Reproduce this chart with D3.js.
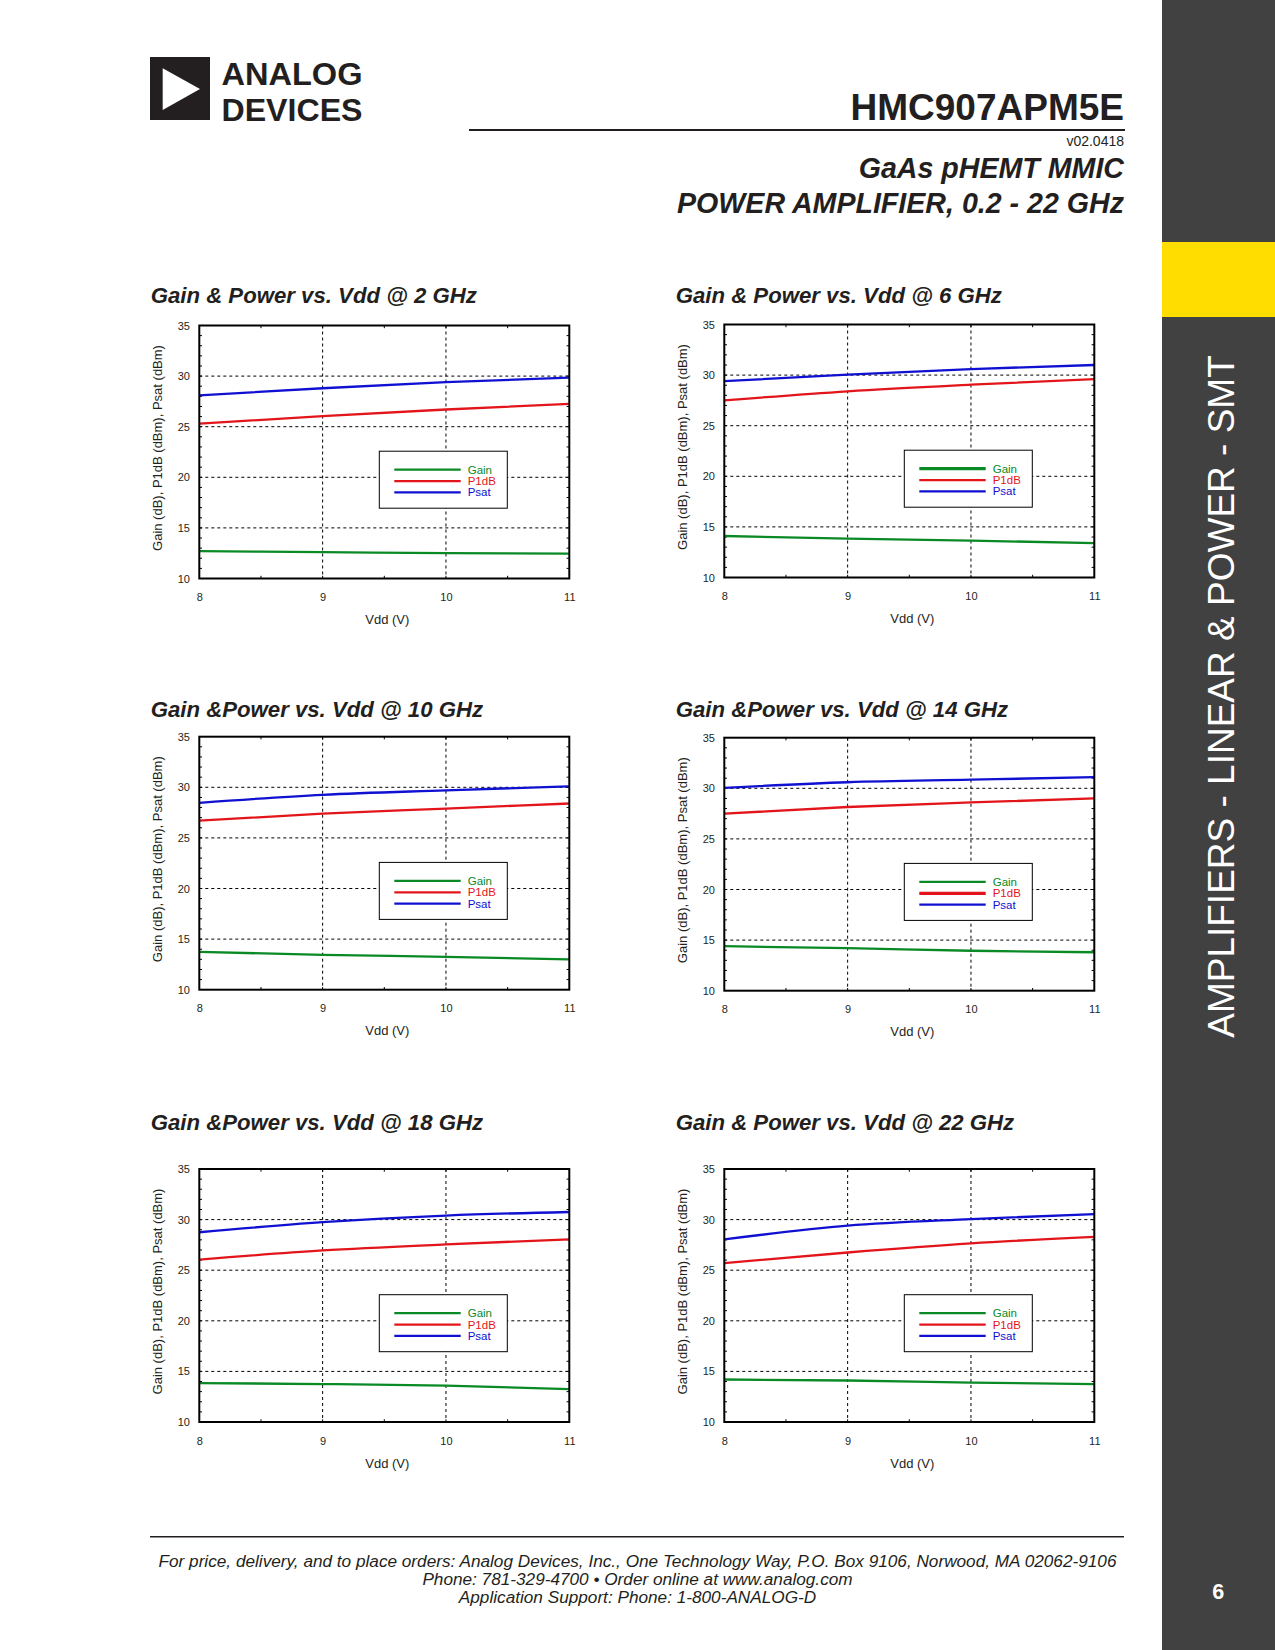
<!DOCTYPE html>
<html>
<head>
<meta charset="utf-8">
<script src="https://cdn.jsdelivr.net/npm/d3@7"></script>
<style>
  body { margin: 0; background: #fff; }
  svg { display: block; }
  text { font-family: "Liberation Sans", Arial, Helvetica, sans-serif; }
</style>
</head>
<body>
<svg id="page" width="1275" height="1650"></svg>
<script>
// ---------------- DATA ----------------
const vdd = [8, 9, 10, 11];
const xTickValues = [8, 9, 10, 11];
const yTickValues = [10, 15, 20, 25, 30, 35];
const seriesNames = ["Gain", "P1dB", "Psat"];
const chartTitles = [
  "Gain & Power vs. Vdd @ 2 GHz",
  "Gain & Power vs. Vdd @ 6 GHz",
  "Gain &Power vs. Vdd @ 10 GHz",
  "Gain &Power vs. Vdd @ 14 GHz",
  "Gain &Power vs. Vdd @ 18 GHz",
  "Gain & Power vs. Vdd @ 22 GHz"
];
const xAxisTitle = "Vdd (V)";
const yAxisTitle = "Gain (dB), P1dB (dBm), Psat (dBm)";

const gain2GHz  = [12.7, 12.6, 12.5, 12.45];
const p1dB2GHz  = [25.3, 26.05, 26.7, 27.25];
const psat2GHz  = [28.1, 28.8, 29.4, 29.85];

const gain6GHz  = [14.1, 13.85, 13.65, 13.4];
const p1dB6GHz  = [27.5, 28.4, 29.05, 29.6];
const psat6GHz  = [29.4, 30.05, 30.6, 31.0];

const gain10GHz = [13.73, 13.45, 13.25, 13.0];
const p1dB10GHz = [26.7, 27.4, 27.9, 28.4];
const psat10GHz = [28.47, 29.26, 29.7, 30.1];

const gain14GHz = [14.4, 14.2, 13.95, 13.8];
const p1dB14GHz = [27.5, 28.15, 28.6, 29.0];
const psat14GHz = [30.05, 30.6, 30.85, 31.1];

const gain18GHz = [13.85, 13.75, 13.6, 13.25];
const p1dB18GHz = [26.05, 26.95, 27.55, 28.05];
const psat18GHz = [28.75, 29.75, 30.4, 30.75];

const gain22GHz = [14.2, 14.1, 13.9, 13.75];
const p1dB22GHz = [25.7, 26.75, 27.65, 28.3];
const psat22GHz = [28.05, 29.4, 30.05, 30.55];

const footerLines = [
  "For price, delivery, and to place orders: Analog Devices, Inc., One Technology Way, P.O. Box 9106, Norwood, MA 02062-9106",
  "Phone: 781-329-4700 \u2022 Order online at www.analog.com",
  "Application Support: Phone: 1-800-ANALOG-D"
];

// ---------------- STYLE / LAYOUT ----------------
const colors = { Gain: "#0a8a25", P1dB: "#e3151b", Psat: "#1010d2" };
const legendEmphasis = [null, "Gain", null, "P1dB", null, null];
const chartData = [
  [gain2GHz, p1dB2GHz, psat2GHz],
  [gain6GHz, p1dB6GHz, psat6GHz],
  [gain10GHz, p1dB10GHz, psat10GHz],
  [gain14GHz, p1dB14GHz, psat14GHz],
  [gain18GHz, p1dB18GHz, psat18GHz],
  [gain22GHz, p1dB22GHz, psat22GHz]
];
const frameLefts = [199.3, 724.3, 199.3, 724.3, 199.3, 724.3];
const frameTops = [325.5, 324.5, 736.7, 737.7, 1169, 1169];
const titleBaselines = [303, 303, 717, 717, 1130, 1130];
const W = 370, H = 253;

const svg = d3.select("#page");
const dark = "#231f20";

// Sidebar
svg.append("rect").attr("x", 1162).attr("y", 0).attr("width", 113).attr("height", 1650).attr("fill", "#424141");
svg.append("rect").attr("x", 1162).attr("y", 242).attr("width", 113).attr("height", 75).attr("fill", "#ffdd00");
svg.append("text")
  .attr("transform", "translate(1233.5,696.5) rotate(-90)")
  .attr("text-anchor", "middle")
  .attr("font-size", 37)
  .attr("fill", "#fff")
  .text("AMPLIFIERS - LINEAR & POWER - SMT");
svg.append("text")
  .attr("x", 1218.3).attr("y", 1599)
  .attr("text-anchor", "middle")
  .attr("font-size", 21.5).attr("font-weight", "bold")
  .attr("fill", "#fff").text("6");

// Logo
svg.append("rect").attr("x", 150).attr("y", 57).attr("width", 60).attr("height", 63).attr("fill", dark);
svg.append("path").attr("d", "M162.7,68.3 L200,89 L162.7,110 Z").attr("fill", "#fff");
svg.append("text").attr("x", 221.5).attr("y", 85).attr("font-size", 31.5).attr("font-weight", "bold")
  .attr("font-family", "'Liberation Sans Narrow', 'Liberation Sans', Arial, sans-serif")
  .attr("fill", dark).attr("textLength", 141).attr("lengthAdjust", "spacingAndGlyphs").text("ANALOG");
svg.append("text").attr("x", 221.5).attr("y", 120.5).attr("font-size", 31.5).attr("font-weight", "bold")
  .attr("font-family", "'Liberation Sans Narrow', 'Liberation Sans', Arial, sans-serif")
  .attr("fill", dark).attr("textLength", 141).attr("lengthAdjust", "spacingAndGlyphs").text("DEVICES");

// Header
svg.append("text").attr("x", 1124).attr("y", 120).attr("text-anchor", "end")
  .attr("font-size", 37).attr("font-weight", "bold").attr("fill", dark).text("HMC907APM5E");
svg.append("line").attr("x1", 469).attr("x2", 1125).attr("y1", 130).attr("y2", 130)
  .attr("stroke", dark).attr("stroke-width", 1.8);
svg.append("text").attr("x", 1124).attr("y", 145.5).attr("text-anchor", "end")
  .attr("font-size", 14).attr("fill", dark).text("v02.0418");
svg.append("text").attr("x", 1124).attr("y", 177.5).attr("text-anchor", "end")
  .attr("font-size", 28.6).attr("font-weight", "bold").attr("font-style", "italic").attr("fill", dark).text("GaAs pHEMT MMIC");
svg.append("text").attr("x", 1124).attr("y", 213).attr("text-anchor", "end")
  .attr("font-size", 28.6).attr("font-weight", "bold").attr("font-style", "italic").attr("fill", dark).text("POWER AMPLIFIER, 0.2 - 22 GHz");

// Footer
svg.append("line").attr("x1", 150).attr("x2", 1124).attr("y1", 1536.7).attr("y2", 1536.7)
  .attr("stroke", dark).attr("stroke-width", 1.4);
footerLines.forEach((t, i) => {
  svg.append("text").attr("x", 637.5).attr("y", 1567 + i * 18.2)
    .attr("text-anchor", "middle").attr("font-size", 17.2).attr("font-style", "italic")
    .attr("fill", dark).text(t);
});

// Charts
chartData.forEach((series, ci) => {
  const left = frameLefts[ci], top = frameTops[ci];
  const g = svg.append("g").attr("transform", `translate(${left},${top})`);
  const x = d3.scaleLinear().domain([8, 11]).range([0, W]);
  const y = d3.scaleLinear().domain([10, 35]).range([H, 0]);

  // Title
  svg.append("text").attr("x", left - 48.6).attr("y", titleBaselines[ci])
    .attr("font-size", 22.2).attr("font-weight", "bold").attr("font-style", "italic")
    .attr("fill", dark).text(chartTitles[ci]);

  // grid dashed
  const gridY = yTickValues.filter(v => v > 10 && v < 35);
  const gridX = xTickValues.filter(v => v > 8 && v < 11);
  g.selectAll(".gy").data(gridY).join("line")
    .attr("x1", 0).attr("x2", W).attr("y1", d => y(d)).attr("y2", d => y(d))
    .attr("stroke", "#000").attr("stroke-width", 1).attr("stroke-dasharray", "3,3");
  g.selectAll(".gx").data(gridX).join("line")
    .attr("y1", 0).attr("y2", H).attr("x1", d => x(d)).attr("x2", d => x(d))
    .attr("stroke", "#000").attr("stroke-width", 1).attr("stroke-dasharray", "3,3");

  // minor ticks inside frame
  const minorY = d3.range(11, 35, 1);
  const minorX = d3.range(8.5, 11, 0.5);
  const tl = 2.7;
  minorY.forEach(v => {
    g.append("line").attr("x1", 0).attr("x2", tl).attr("y1", y(v)).attr("y2", y(v)).attr("stroke", "#000").attr("stroke-width", 1);
    g.append("line").attr("x1", W - tl).attr("x2", W).attr("y1", y(v)).attr("y2", y(v)).attr("stroke", "#000").attr("stroke-width", 1);
  });
  minorX.forEach(v => {
    g.append("line").attr("x1", x(v)).attr("x2", x(v)).attr("y1", H - tl).attr("y2", H).attr("stroke", "#000").attr("stroke-width", 1);
    g.append("line").attr("x1", x(v)).attr("x2", x(v)).attr("y1", 0).attr("y2", tl).attr("stroke", "#000").attr("stroke-width", 1);
  });

  // axes labels via d3 axes (no domain/ticks lines)
  const xAxis = d3.axisBottom(x).tickValues(xTickValues).tickSize(0).tickPadding(0).tickFormat(d3.format("d"));
  const xa = g.append("g").attr("transform", `translate(0,${H})`).call(xAxis);
  xa.select(".domain").remove();
  xa.selectAll("text").attr("font-size", 11).attr("fill", dark)
    .attr("font-family", "'Liberation Sans', Arial, sans-serif").attr("dy", 0).attr("y", 22.5);

  const yAxis = d3.axisLeft(y).tickValues(yTickValues).tickSize(0).tickPadding(9.3).tickFormat(d3.format("d"));
  const ya = g.append("g").call(yAxis);
  ya.select(".domain").remove();
  ya.selectAll("text").attr("font-size", 11).attr("fill", dark)
    .attr("font-family", "'Liberation Sans', Arial, sans-serif");

  // axis titles
  g.append("text").attr("x", W / 2 + 3).attr("y", H + 45.5).attr("text-anchor", "middle")
    .attr("font-size", 13).attr("fill", dark).text(xAxisTitle);
  g.append("text").attr("transform", `translate(-37,${H / 2 - 4}) rotate(-90)`).attr("text-anchor", "middle")
    .attr("font-size", 13).attr("fill", dark).text(yAxisTitle);

  // data lines
  const line = d3.line().x((d, i) => x(vdd[i])).y(d => y(d)).curve(d3.curveMonotoneX);
  series.forEach((vals, si) => {
    g.append("path").datum(vals).attr("d", line)
      .attr("fill", "none").attr("stroke", colors[seriesNames[si]]).attr("stroke-width", 2.3);
  });

  // legend
  const lg = g.append("g").attr("transform", "translate(180,125.7)");
  lg.append("rect").attr("width", 128).attr("height", 57).attr("fill", "#fff").attr("stroke", "#000").attr("stroke-width", 1);
  const ly = [18.4, 30, 41.2];
  seriesNames.forEach((name, si) => {
    lg.append("line").attr("x1", 15).attr("x2", 81.4).attr("y1", ly[si]).attr("y2", ly[si])
      .attr("stroke", colors[name]).attr("stroke-width", legendEmphasis[ci] === name ? 3.2 : 2.2);
    lg.append("text").attr("x", 88.4).attr("y", ly[si] + 4).attr("font-size", 11.5)
      .attr("fill", colors[name]).text(name);
  });

  // frame
  g.append("rect").attr("width", W).attr("height", H).attr("fill", "none").attr("stroke", "#000").attr("stroke-width", 2);
});
</script>
</body>
</html>
